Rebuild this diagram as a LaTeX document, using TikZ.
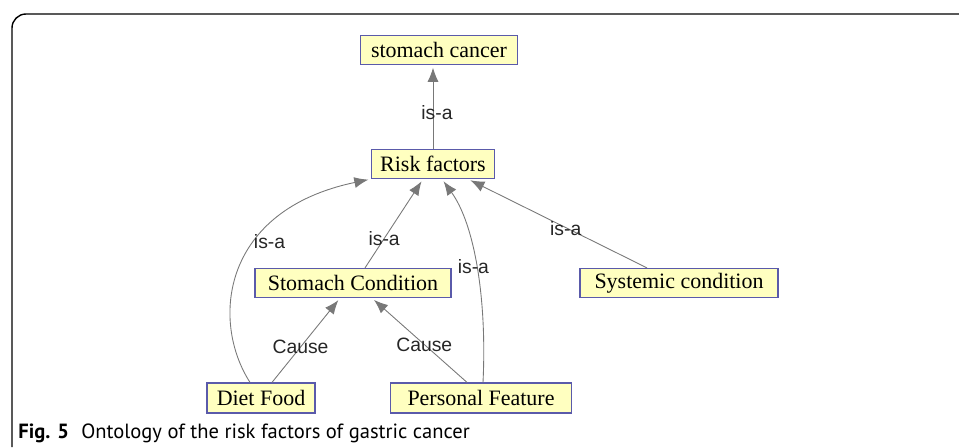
\documentclass[tikz,border=0pt]{standalone}
\usepackage{fontspec}
\setmainfont{Liberation Serif}
\newfontfamily\edgefont{Liberation Sans}
\newfontfamily\capfont{PT Sans}
\usepackage{xcolor}
\usetikzlibrary{arrows.meta}
\definecolor{boxfill}{RGB}{255,255,192}
\definecolor{boxline}{RGB}{90,90,170}
\definecolor{edgegray}{RGB}{120,120,120}

\begin{document}
\begin{tikzpicture}[
  box/.style={draw=boxline, fill=boxfill, line width=0.7pt, inner sep=0pt, minimum height=0.58cm, font=\fontsize{12.5}{14}\selectfont},
  link/.style={draw=edgegray, line width=0.5pt, shorten >=1.5pt, -{Latex[length=2.8mm,width=2.2mm]}},
  lbl/.style={font=\edgefont\fontsize{11}{13}\selectfont, inner sep=0pt, text=black!85}
]
\useasboundingbox (0,0) rectangle (19.18,8.94);
\draw[line width=0.8pt, rounded corners=0.28cm] (0.24,0) -- (0.24,8.66) -- (19.18,8.66); % frame
\node[box, minimum width=3.14cm] (cancer) at (8.78,7.94) {stomach cancer};
\node[box, minimum width=2.46cm] (risk) at (8.66,5.66) {Risk factors};
\node[box, minimum width=3.92cm] (cond) at (7.06,3.28) {Stomach Condition};
\node[box, minimum width=3.96cm] (sys) at (13.58,3.28) {Systemic condition};
\node[box, minimum width=2.16cm, minimum height=0.6cm] (diet) at (5.22,0.98) {Diet Food};
\node[box, minimum width=3.62cm, minimum height=0.6cm] (pers) at (9.62,0.98) {Personal Feature};
% is-a links
\draw[link] (risk.north) -- (risk.north |- cancer.south) node[lbl, pos=0.43, xshift=0.08cm] {is-a}; % risk -> cancer
\draw[link] ([xshift=0.24cm]cond.north) -- ([xshift=-0.2cm]risk.south) node[lbl, pos=0.33] {is-a}; % condition -> risk
\draw[link] ([xshift=-0.64cm]sys.north) -- ([xshift=0.7cm]risk.south) node[lbl, pos=0.44, xshift=-0.05cm] {is-a}; % systemic -> risk
\draw[link] ([xshift=-0.22cm]diet.north) .. controls (4.2,2.54) and (4.45,4.74) .. (risk.south west) node[lbl, pos=0.62, anchor=west, xshift=-0.05cm] {is-a}; % diet -> risk
\draw[link] ([xshift=0.04cm]pers.north) .. controls (9.74,2.94) and (9.5,4.44) .. ([xshift=0.18cm]risk.south) node[lbl, pos=0.5, xshift=-0.06cm] {is-a}; % personal -> risk
% cause links
\draw[link] ([xshift=0.22cm]diet.north) -- ([xshift=-0.26cm]cond.south) node[lbl, pos=0.42] {Cause}; % diet -> condition
\draw[link] ([xshift=-0.28cm]pers.north) -- ([xshift=0.38cm]cond.south) node[lbl, pos=0.45] {Cause}; % personal -> condition
\node[anchor=base west, inner sep=0pt, font=\capfont\fontsize{11.7}{14}\selectfont] (caption) at (0.36,0.18) {\textbf{Fig. 5}\hspace{0.6em}Ontology of the risk factors of gastric cancer};
\end{tikzpicture}
\end{document}
